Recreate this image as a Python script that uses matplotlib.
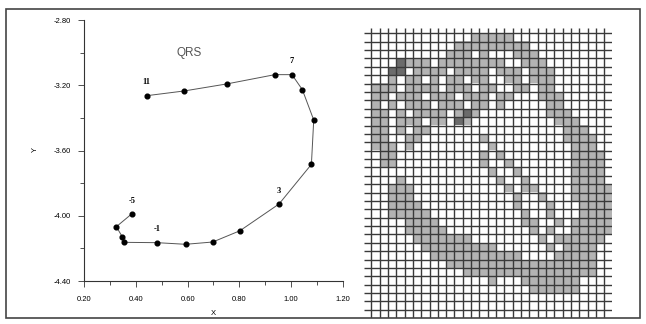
import numpy as np
import matplotlib.pyplot as plt
from matplotlib.patches import Rectangle
from matplotlib.colors import ListedColormap

plt.rcParams['axes.unicode_minus'] = False

# QRS loop, sample number -> (x, y)
qrs_idx = [-5, -4, -3, -2, -1, 0, 1, 2, 3, 4, 5, 6, 7, 8, 9, 10, 11]
qrs_x = [0.384, 0.325, 0.348, 0.354, 0.482, 0.592, 0.697, 0.802, 0.953,
         1.078, 1.087, 1.043, 1.003, 0.937, 0.751, 0.587, 0.442]
qrs_y = [-3.989, -4.067, -4.130, -4.163, -4.165, -4.175, -4.161, -4.092, -3.928,
         -3.685, -3.413, -3.227, -3.135, -3.135, -3.192, -3.235, -3.264]
labelled = [-5, -1, 3, 7, 11]

xticks = [0.20, 0.40, 0.60, 0.80, 1.00, 1.20]
yticks = [-4.40, -4.00, -3.60, -3.20, -2.80]

# cell map of the right panel: '.' empty, 'g' grey, 'd' dark
cells = [
    ".............ggggg............",
    "...........ggggggggg..........",
    "..........ggg.g...ggg.........",
    "....dggg.gggggggg..ggg........",
    "...dd.gggg.gggg.ggg.ggg.......",
    "...g.gg.g.gg.gg..gg.ggg.......",
    ".ggg.gggg.ggg.gg..gg.gg.......",
    ".gg.ggg.ggg.ggg.gg...ggg......",
    ".g.g.ggg.ggg.gg.g.....gg......",
    ".gg.g.gggg.gdg........ggg.....",
    ".gg.ggg.gg.dg..........ggg....",
    ".gg.g.gg................ggg...",
    ".gg..gg.......g.........gggg..",
    ".ggg.g.........g.........ggg..",
    "..gg..........g.g........gggg.",
    "..gg..........g..g.......gggg.",
    "...............g..g......gggg.",
    "....g...........g..g.....gggg.",
    "...ggg...........g.gg....ggggg",
    "...ggg............g..g...ggggg",
    "...gggg...........g...g...gggg",
    "...ggggg...........g..g...gggg",
    ".....gggg..........gg..g.ggggg",
    ".....ggggg..........g.g..ggggg",
    "......ggggggg........g.gggggg.",
    ".......ggggggggg......g.gggg..",
    "........ggggggggggg....ggggg..",
    "..........gggggggggggggggggg..",
    "............gggggggggggggggg..",
    "...............g...ggggggg....",
    "....................gggggg....",
    "..............................",
    "..............................",
]

fig = plt.figure(figsize=(6.46, 3.24), dpi=100)

# ---- left: vector loop
ax = fig.add_axes([84 / 646, 1 - 281 / 324, 259 / 646, 261 / 324])
ax.plot(qrs_x, qrs_y, color='#555555', lw=0.7, zorder=2)
ax.plot(qrs_x, qrs_y, 'o', color='black', ms=3.4, zorder=3)
for i, xv, yv in zip(qrs_idx, qrs_x, qrs_y):
    if i in labelled:
        ax.annotate(str(i), (xv, yv), xytext=(0, 9.5), textcoords='offset points',
                    ha='center', va='center', fontsize=6, fontweight='bold',
                    family='Liberation Serif')
ax.set_xlim(0.20, 1.20)
ax.set_ylim(-4.40, -2.80)
ax.set_xticks(xticks)
ax.set_yticks(yticks)
ax.set_xticks(np.arange(0.3, 1.2, 0.2), minor=True)
ax.set_yticks(np.arange(-4.2, -2.9, 0.4), minor=True)
ax.set_xticklabels(['%.2f' % v for v in xticks])
ax.set_yticklabels(['%.2f' % v for v in yticks])
for lab in ax.get_xticklabels() + ax.get_yticklabels():
    lab.set_family('Liberation Sans')
    lab.set_fontsize(5.5)
ax.tick_params(which='major', length=4.5, width=0.6, color='#333333')
ax.tick_params(which='minor', length=3, width=0.6, color='#333333')
ax.tick_params(axis='x', pad=6)
ax.tick_params(axis='y', pad=5)
for s in ['top', 'right']:
    ax.spines[s].set_visible(False)
for s in ['left', 'bottom']:
    ax.spines[s].set_color('#333333')
    ax.spines[s].set_linewidth(0.8)
ax.set_xlabel('X', fontsize=5.5, family='Liberation Sans')
ax.set_ylabel('Y', fontsize=5.5, family='Liberation Sans')
ax.xaxis.set_label_coords(0.498, -0.11)
ax.yaxis.set_label_coords(-0.176, 0.502)
ax.text(0.405, 0.872, 'QRS', transform=ax.transAxes, ha='center', va='center',
        fontsize=8.5, color='#555555', family='Liberation Sans')

# ---- right: cell grid
code = {'.': 0, 'g': 1, 'd': 2}
arr = np.array([[code[ch] for ch in row] for row in cells])
nrows = arr.shape[0]
ncols = arr.shape[1]
gx = fig.add_axes([363.8 / 646, 1 - 318 / 324, (611.7 - 363.8) / 646, (318 - 27.7) / 324])
cmap = ListedColormap(['white', '#b3b3b3', '#6b6b6b'])
gx.imshow(arr, cmap=cmap, vmin=0, vmax=2, extent=(-1, ncols - 1, nrows, 0),
          interpolation='nearest', aspect='auto')
gx.vlines(np.arange(0, ncols - 1), -0.67, nrows + 0.97, color='#3a3a3a', lw=1.0)
gx.hlines(np.arange(0, nrows + 1), -0.9, ncols - 1.1, color='#3a3a3a', lw=1.0)
gx.set_xlim(-0.9, ncols - 1.1)
gx.set_ylim(nrows + 0.97, -0.67)
gx.axis('off')

# frame around the whole picture
fig.patches.append(Rectangle((6 / 646, 1 - 318 / 324), 634 / 646, 309 / 324,
                             transform=fig.transFigure, fill=False,
                             edgecolor='#444444', lw=1.2))

fig.savefig('out.png', dpi=100)
